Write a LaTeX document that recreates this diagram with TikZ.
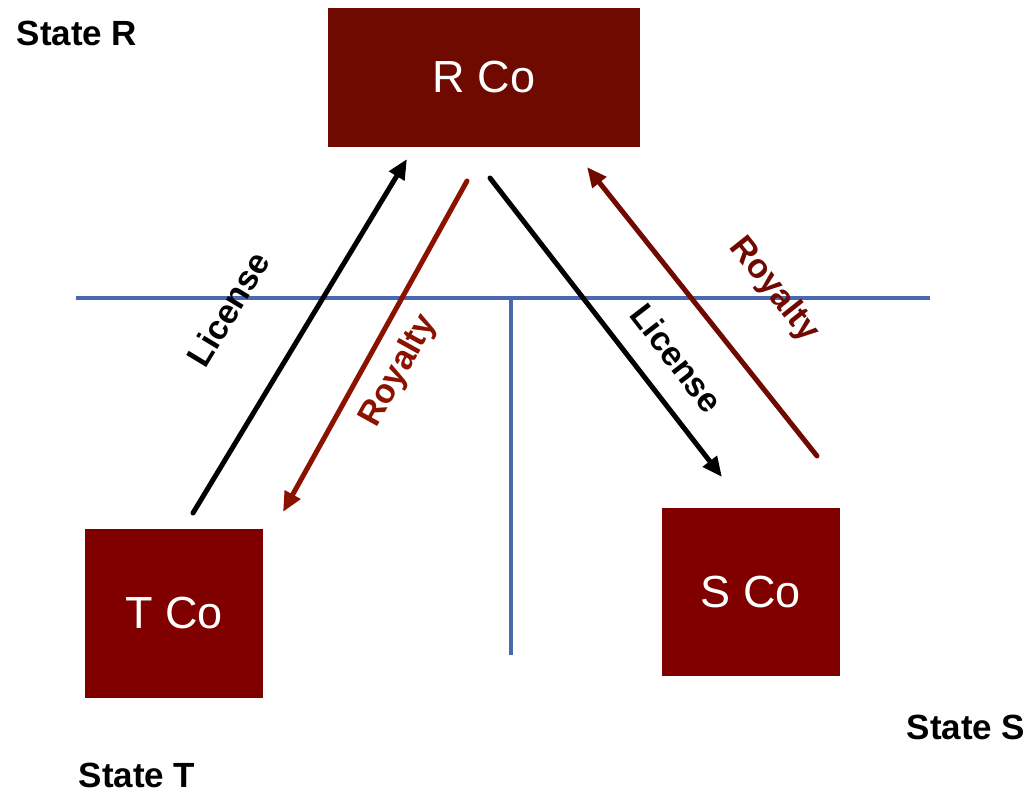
\documentclass[tikz,border=0pt]{standalone}
\usepackage{fontspec}
\setmainfont{Liberation Sans}
\usetikzlibrary{arrows.meta}
\definecolor{boxdark}{RGB}{110,10,0}
\definecolor{boxred}{RGB}{128,0,0}
\definecolor{redA}{RGB}{140,18,0}
\definecolor{redB}{RGB}{112,10,0}
\definecolor{divblue}{RGB}{74,104,176}
\tikzset{
  cobox/.style={draw=none, inner sep=0pt, text=white, font=\fontsize{45bp}{48bp}\selectfont},
  statelbl/.style={font=\bfseries\fontsize{35bp}{40bp}\selectfont, inner sep=0pt},
  flowlbl/.style={font=\bfseries\fontsize{34bp}{38bp}\selectfont, inner sep=0pt},
  flow/.style={line width=5bp, line cap=round, -{Triangle[length=20bp,width=17bp]}},
  divider/.style={divblue, line width=3.5bp}
}
\begin{document}
\begin{tikzpicture}[x=1bp,y=-1bp]
\useasboundingbox (0,0) rectangle (1033,792);
% boxes
\node[cobox, fill=boxdark, minimum width=312bp, minimum height=139bp] (R) at (484,77.5) {R Co};
\node[cobox, fill=boxred, minimum width=178bp, minimum height=169bp] (T) at (174,613) {T Co};
\node[cobox, fill=boxred, minimum width=178bp, minimum height=168bp] (S) at (751,592) {S Co};
% state labels
\node[statelbl] (stR) at (77,33) {State R};
\node[statelbl] (stT) at (137,775) {State T};
\node[statelbl] (stS) at (966,727) {State S};
% dividers
\coordinate (hl) at (76,298);
\coordinate (hr) at (930,298);
\coordinate (vt) at (511,298);
\coordinate (vb) at (511,655);
\draw[divider] (hl) -- (hr);
\draw[divider] (vt) -- (vb);
% arrow endpoints
\coordinate (l1s) at (193,513);
\coordinate (l1e) at (407,159);
\coordinate (r1s) at (467,181);
\coordinate (r1e) at (283,512);
\coordinate (l2s) at (490,178);
\coordinate (l2e) at (722,477);
\coordinate (r2s) at (817,456);
\coordinate (r2e) at (587,167);
\draw[flow, black] (l1s) -- (l1e);
\draw[flow, redA] (r1s) -- (r1e);
\draw[flow, black] (l2s) -- (l2e);
\draw[flow, redB] (r2s) -- (r2e);
% labels
\node[flowlbl, rotate=58.8] (lic1) at (228,309) {License};
\node[flowlbl, text=redA, rotate=61] (roy1) at (399,371) {Royalty};
\node[flowlbl, rotate=-52.3] (lic2) at (677,358) {License};
\node[flowlbl, text=redB, rotate=-51.5] (roy2) at (774,290) {Royalty};
\end{tikzpicture}
\end{document}
